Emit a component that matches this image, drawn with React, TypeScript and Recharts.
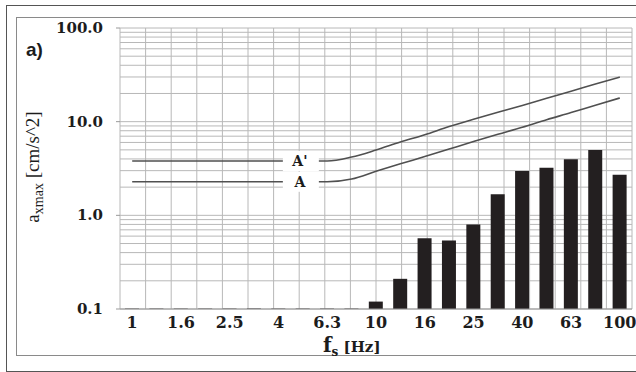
import { ComposedChart, Bar, Line, XAxis, YAxis, LabelList, ReferenceLine } from "recharts";

// one-third octave band centre frequencies [Hz]
const FREQS = ['1', '1.25', '1.6', '2', '2.5', '3.15', '4', '5', '6.3', '8', '10', '12.5', '16', '20', '25', '31.5', '40', '50', '63', '80', '100'];

// measured a_xmax per band [cm/s^2]
const MEASURED = [0.101, 0.101, 0.101, 0.101, 0.101, 0.101, 0.101, 0.101, 0.101, 0.101, 0.12, 0.21, 0.57, 0.54, 0.80, 1.68, 2.97, 3.22, 3.96, 4.98, 2.71];

// limit curves A' and A
const LIMIT_A1 = [3.8, 3.8, 3.8, 3.8, 3.8, 3.8, 3.8, 3.8, 3.8, 4.19, 4.98, 6.06, 7.25, 8.87, 10.6, 12.6, 14.9, 17.8, 21.1, 25.2, 29.9];
const LIMIT_A = [2.28, 2.28, 2.28, 2.28, 2.28, 2.28, 2.28, 2.28, 2.28, 2.44, 2.95, 3.55, 4.24, 5.1, 6.13, 7.32, 8.71, 10.5, 12.5, 15.0, 17.9];

// log grid ticks, labels only on decades
const Y_TICKS = [0.1, 0.2, 0.3, 0.4, 0.5, 0.6, 0.7, 0.8, 0.9, 1, 2, 3, 4, 5, 6, 7, 8, 9, 10, 20, 30, 40, 50, 60, 70, 80, 90, 100];
const DECADES = [0.1, 1, 10, 100];

const data = FREQS.map((f, i) => ({ f, measured: MEASURED[i], a1: LIMIT_A1[i], a: LIMIT_A[i] }));
const bounds = FREQS.map((_, i) => i).concat(FREQS.length);

const SERIF = '"DejaVu Serif", serif';
const INK = '#1c1c1c';
const GRID = '#b8b8b8';

function YTick(props: any) {
  const { x, y, payload } = props;
  if (!DECADES.includes(payload.value)) return null;
  return (
    <g>
      <line x1={x - 4} x2={x} y1={y} y2={y} stroke="#999" />
      <text x={x - 17} y={y} dy={5} textAnchor="end" fontFamily={SERIF} fontWeight="bold" fontSize={15} fill={INK}>
        {payload.value.toFixed(1)}
      </text>
    </g>
  );
}

const curveLabel = (text: string) => (props: any) => {
  const { x, y, index } = props;
  if (index !== 7) return null;
  return (
    <g>
      <rect x={x - 20} y={y - 10} width={36} height={20} fill="#fff" />
      <text x={x - 3} y={y} dy={5} textAnchor="middle" fontFamily={SERIF} fontWeight="bold" fontSize={14} fill={INK}>
        {text}
      </text>
    </g>
  );
};

export default function App() {
  return (
    <div style={{ position: 'absolute', left: 0, top: 0, width: 636, height: 372, overflow: 'hidden', background: '#fff' }}>
      <div style={{ position: 'absolute', left: 6, top: 5, width: 660, height: 365, border: '1px solid #555' }} />
      <div style={{ position: 'absolute', left: 16, top: 17, width: 660, height: 337, border: '1px solid #8a8a8a' }} />
      <div style={{ position: 'absolute', left: 0, top: 0 }}>
        <ComposedChart width={636} height={372} data={data} margin={{ top: 28, right: 4, bottom: 32, left: 0 }}>
          <XAxis xAxisId="a" type="number" domain={[0, 21]} ticks={bounds} height={1} tick={false}
            tickSize={4} axisLine={{ stroke: '#999' }} tickLine={{ stroke: '#999' }} />
          <XAxis xAxisId="b" dataKey="f" height={30} interval={1} axisLine={false} tickLine={false}
            tickSize={0} tickMargin={7}
            tick={{ fontSize: 16, fontFamily: SERIF, fontWeight: 'bold', fill: INK }} />
          <YAxis scale="log" domain={[0.1, 100]} allowDataOverflow ticks={Y_TICKS} width={120}
            axisLine={false} tickLine={false} tickSize={0} tickMargin={0} tick={<YTick />} />
          {Y_TICKS.map((v) => (
            <ReferenceLine key={'y' + v} xAxisId="a" y={v} stroke={GRID} zIndex={-100} />
          ))}
          {bounds.map((b) => (
            <ReferenceLine key={'x' + b} xAxisId="a" x={b} stroke={GRID} zIndex={-100} />
          ))}
          <Bar xAxisId="b" dataKey="measured" fill="#231f20" barSize={14} isAnimationActive={false} />
          <Line xAxisId="b" type="monotone" dataKey="a1" stroke="#505050" strokeWidth={1.6} dot={false} isAnimationActive={false}>
            <LabelList dataKey="a1" content={curveLabel("A'")} />
          </Line>
          <Line xAxisId="b" type="monotone" dataKey="a" stroke="#505050" strokeWidth={1.6} dot={false} isAnimationActive={false}>
            <LabelList dataKey="a" content={curveLabel('A')} />
          </Line>
        </ComposedChart>
      </div>
      <svg width={636} height={372} style={{ position: 'absolute', left: 0, top: 0, pointerEvents: 'none' }}>
        <text x={26} y={56} fontFamily='"Liberation Sans", Arial, sans-serif' fontWeight="bold" fontSize={19} fill={INK}>a)</text>
        <text transform="rotate(-90)" x={-167} y={39} textAnchor="middle" fontFamily='"Liberation Serif", serif' fontSize={19} fill={INK}>
          <tspan>a</tspan>
          <tspan fontSize={14} dy={4}>xmax</tspan>
          <tspan dy={-4}> [cm/s^2]</tspan>
        </text>
        <text x={323} y={352} fontFamily={SERIF} fontWeight="bold" fill={INK}>
          <tspan fontSize={20}>f</tspan>
          <tspan fontSize={12} dy={4}>s</tspan>
          <tspan fontSize={15} dy={-4}> [Hz]</tspan>
        </text>
      </svg>
    </div>
  );
}
